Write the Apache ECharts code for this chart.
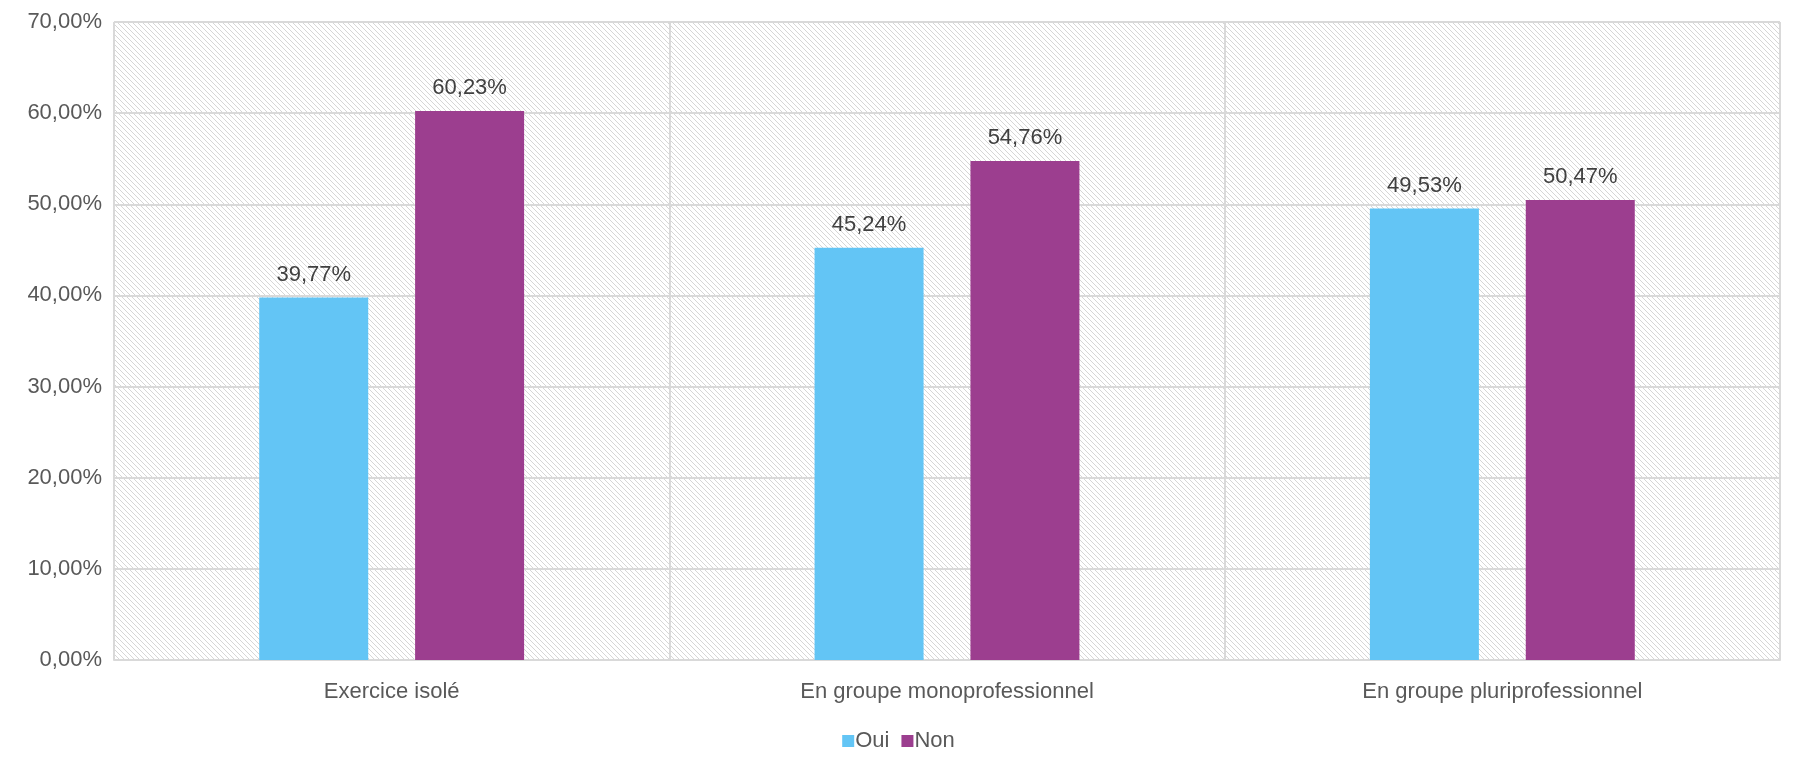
<!DOCTYPE html>
<html><head><meta charset="utf-8">
<script src="https://cdn.jsdelivr.net/npm/echarts@6/dist/echarts.min.js"></script>
<style>html,body{margin:0;padding:0;background:#fff}#c{width:1797px;height:773px}</style>
</head><body><div id="c"></div>
<script>
const categories = ['Exercice isolé', 'En groupe monoprofessionnel', 'En groupe pluriprofessionnel'];
const seriesNames = ['Oui', 'Non'];
const ouiValues = [39.77, 45.24, 49.53];
const nonValues = [60.23, 54.76, 50.47];
const yTicks = [0, 10, 20, 30, 40, 50, 60, 70];

const fmt = v => v.toFixed(2).replace('.', ',') + '%';

const P = 5;
const pc = document.createElement('canvas');
pc.width = P; pc.height = P;
const ctx = pc.getContext('2d');
ctx.fillStyle = '#ffffff'; ctx.fillRect(0,0,P,P);
ctx.fillStyle = '#d6d6d6';
for (let i = 0; i < P; i++) { ctx.fillRect(i, i, 1, 1); }

const FF = '"Liberation Sans", Arial, sans-serif';
const FS = 22;
const chart = echarts.init(document.getElementById('c'));
const txt = '#595959';
chart.setOption({
  animation: false,
  textStyle: { fontFamily: FF },
  grid: { left: 114, right: 17, top: 22, bottom: 113, show: true,
          backgroundColor: { image: pc, repeat: 'repeat' }, borderColor: '#d9d9d9', borderWidth: 1 },
  legend: { bottom: 16, left: 'center', itemWidth: 12, itemHeight: 12, itemGap: 12,
            icon: 'rect', textStyle: { color: txt, fontSize: FS, fontFamily: FF, padding: [0,0,0,-4] },
            data: seriesNames },
  xAxis: { type: 'category', data: categories,
           axisLine: { lineStyle: { color: '#d9d9d9', width: 2 } }, axisTick: { show: false },
           splitLine: { show: true, lineStyle: { color: '#d9d9d9', width: 2 } },
           axisLabel: { color: txt, fontSize: FS, fontFamily: FF, margin: 21 } },
  yAxis: { type: 'value', min: yTicks[0], max: yTicks[yTicks.length-1], interval: 10,
           axisLine: { show: false }, axisTick: { show: false },
           splitLine: { lineStyle: { color: '#d9d9d9', width: 2 } },
           axisLabel: { color: txt, fontSize: FS, fontFamily: FF, margin: 12, formatter: v => fmt(v) } },
  series: [
    { name: seriesNames[0], type: 'bar', data: ouiValues, barWidth: 109, barGap: '43%',
      itemStyle: { color: '#63C5F5' },
      label: { show: true, position: 'top', distance: 12, color: '#404040', fontSize: FS, fontFamily: FF, formatter: p => fmt(p.value) } },
    { name: seriesNames[1], type: 'bar', data: nonValues, barWidth: 109,
      itemStyle: { color: '#9C3E8F' },
      label: { show: true, position: 'top', distance: 12, color: '#404040', fontSize: FS, fontFamily: FF, formatter: p => fmt(p.value) } }
  ]
});
</script></body></html>
